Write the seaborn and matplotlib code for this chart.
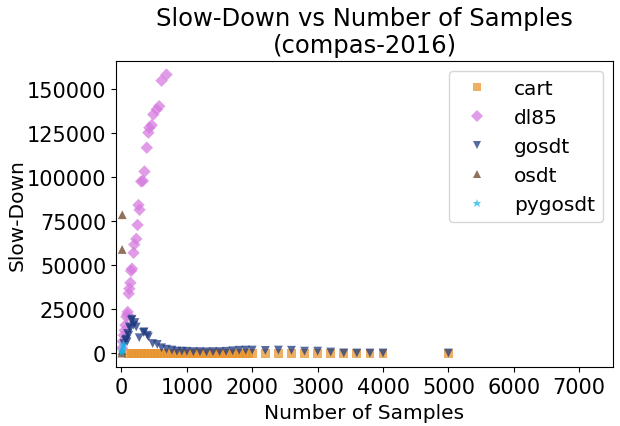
import matplotlib
matplotlib.use("Agg")
import matplotlib.pyplot as plt
from matplotlib.ticker import MultipleLocator
import seaborn as sns
import pandas as pd

# ---- data ----
cart_x = [100, 200, 300, 400, 500, 600, 700, 800, 900, 1000, 1100, 1200, 1300, 1400,
          1500, 1600, 1700, 1800, 1900, 2000, 2200, 2400, 2600, 2800, 3000, 3200, 3400,
          3600, 3800, 4000, 5000,
          150, 250, 350, 450, 550, 650, 750, 850, 950, 1050, 1150, 1250, 1350, 1450,
          1550, 1650, 1750, 1850, 1950]
cart_y = [120, 90, 80, 70, 60, 60, 50, 50, 50, 40, 40, 40, 40, 40,
          40, 40, 30, 30, 30, 30, 30, 30, 30, 30, 30, 30, 30,
          30, 30, 30, 30,
          100, 85, 75, 65, 60, 55, 50, 50, 45, 40, 40, 40, 40, 40,
          40, 35, 30, 30, 30]

dl85_x = [10, 20, 35, 50, 60, 75, 90, 95, 110, 120, 136, 146, 161, 185, 196, 226,
          245, 260, 276, 301, 327, 351, 387, 411, 426, 462, 486, 538, 577, 613, 688]
dl85_y = [3000, 6800, 10300, 13000, 16000, 20700, 22000, 23500, 33900, 36700, 40000,
          46800, 48000, 57000, 61700, 64900, 72800, 84100, 81400, 97450, 97800, 103100,
          116600, 125100, 127900, 129400, 135400, 138250, 140100, 154600, 158000]

gosdt_x = [35, 60, 70, 86, 95, 110, 120, 136, 151, 161, 185, 206, 226, 271, 336, 346,
           396, 411, 477, 547, 613, 688, 772, 848, 923, 1000, 1100, 1200, 1300, 1400,
           1500, 1600, 1700, 1800, 1900, 2000, 2200, 2400, 2600, 2800, 3000, 3200, 3400,
           3600, 3800, 4000, 5000]
gosdt_y = [5600, 7500, 8100, 6600, 11300, 10300, 15000, 14100, 18800, 19400, 16000,
           17500, 15000, 8900, 11850, 12250, 10300, 9400, 5600, 5100, 3200, 2400, 1900,
           1300, 1300, 1200, 1000, 1000, 900, 1000, 1000, 1200, 1500, 1800, 1900, 1900,
           1700, 1900, 1800, 1300, 1300, 800, 300, 250, 250, 250, 250]

osdt_x = [5, 8, 10, 12]
osdt_y = [200, 1500, 58900, 78600]

pygosdt_x = [5, 10, 15, 20, 25, 30]
pygosdt_y = [300, 1200, 2000, 3000, 4200, 5400]

algorithms = ["cart", "dl85", "gosdt", "osdt", "pygosdt"]
series = {
    "cart": (cart_x, cart_y),
    "dl85": (dl85_x, dl85_y),
    "gosdt": (gosdt_x, gosdt_y),
    "osdt": (osdt_x, osdt_y),
    "pygosdt": (pygosdt_x, pygosdt_y),
}

rows = []
for name in algorithms:
    xs, ys = series[name]
    for x, y in zip(xs, ys):
        rows.append({"Number of Samples": x, "Slow-Down": y, "algorithm": name})
df = pd.DataFrame(rows)

palette = {"cart": "#E8952F", "dl85": "#D77BE0", "gosdt": "#1F3A80",
           "osdt": "#6B4226", "pygosdt": "#1BB8E8"}
markers = {"cart": "s", "dl85": "D", "gosdt": "v", "osdt": "^", "pygosdt": "*"}

fig = plt.figure(figsize=(6.2, 4.27), dpi=100)
ax = fig.add_axes([0.187, 0.1375, 0.802, 0.718])

sns.scatterplot(data=df, x="Number of Samples", y="Slow-Down", hue="algorithm",
                style="algorithm", hue_order=algorithms, style_order=algorithms,
                palette=palette, markers=markers, s=40, alpha=0.75, linewidth=0,
                ax=ax)

ax.set_xlim(-85, 7520)
ax.xaxis.set_major_locator(MultipleLocator(1000))
ax.yaxis.set_major_locator(MultipleLocator(25000))
ax.set_title("Slow-Down vs Number of Samples\n(compas-2016)", fontsize=17.5)
ax.set_xlabel("Number of Samples", fontsize=14.5)
ax.set_ylabel("Slow-Down", fontsize=14.5, labelpad=0)
ax.tick_params(labelsize=15)
leg = ax.legend(loc="upper right", fontsize=14.5, title=None, handletextpad=0.85)

fig.savefig("out.png", dpi=100)
